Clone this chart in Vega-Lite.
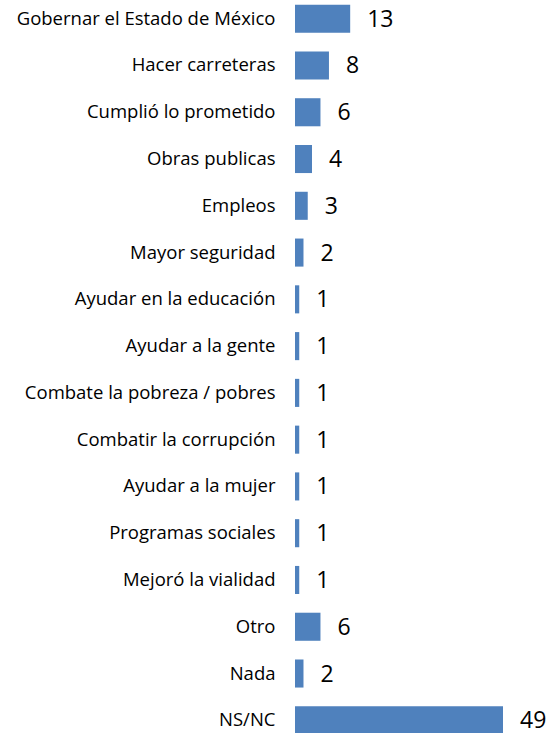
{
  "$schema": "https://vega.github.io/schema/vega-lite/v6.json",
  "autosize": "none",
  "width": 208,
  "height": 739,
  "padding": {"left": 295, "top": 0, "right": 46, "bottom": 0},
  "background": "white",
  "config": {"view": {"stroke": null}},
  "data": {"values": [
    {"cat": "Gobernar el Estado de México", "v": 13},
    {"cat": "Hacer carreteras", "v": 8},
    {"cat": "Cumplió lo prometido", "v": 6},
    {"cat": "Obras publicas", "v": 4},
    {"cat": "Empleos", "v": 3},
    {"cat": "Mayor seguridad", "v": 2},
    {"cat": "Ayudar en la educación", "v": 1},
    {"cat": "Ayudar a la gente", "v": 1},
    {"cat": "Combate la pobreza / pobres", "v": 1},
    {"cat": "Combatir la corrupción", "v": 1},
    {"cat": "Ayudar a la mujer", "v": 1},
    {"cat": "Programas sociales", "v": 1},
    {"cat": "Mejoró la vialidad", "v": 1},
    {"cat": "Otro", "v": 6},
    {"cat": "Nada", "v": 2},
    {"cat": "NS/NC", "v": 49}
  ]},
  "encoding": {
    "y": {"field": "cat", "type": "nominal", "sort": null,
      "scale": {"paddingInner": 0.4, "paddingOuter": 0.1},
      "axis": {"title": null, "domain": false, "ticks": false, "labelPadding": 20, "labelFont": "Open Sans", "labelFontSize": 18.5, "labelColor": "#000000", "labelLimit": 400}},
    "x": {"field": "v", "type": "quantitative", "scale": {"domain": [0, 49], "nice": false}, "axis": null}
  },
  "layer": [
    {"mark": {"type": "bar", "color": "#4F81BD"}},
    {"mark": {"type": "text", "align": "left", "dx": 17, "font": "Open Sans", "fontSize": 23, "color": "#000000", "baseline": "middle", "dy": 1},
     "encoding": {"text": {"field": "v", "type": "quantitative"}}}
  ]
}
